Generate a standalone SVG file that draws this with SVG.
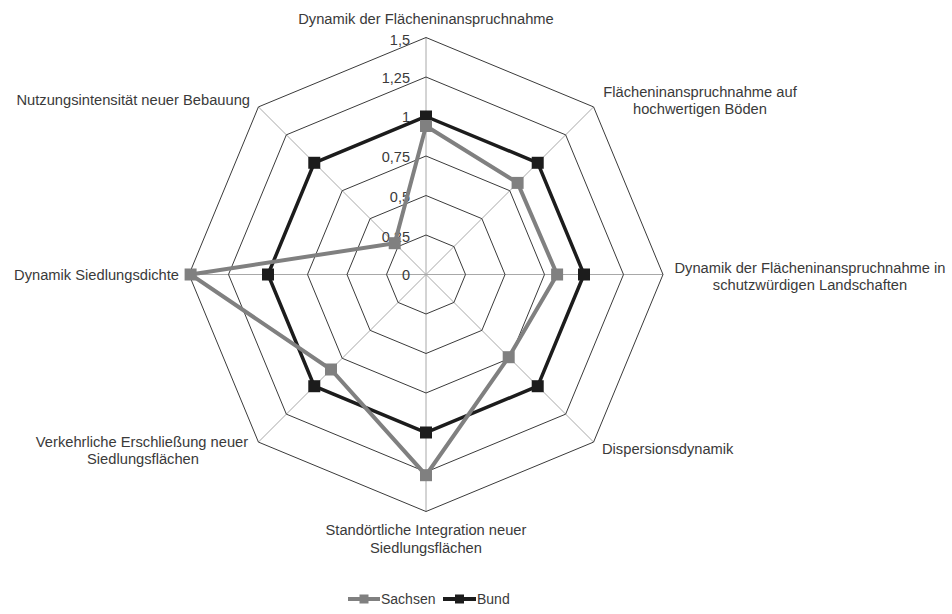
<svg xmlns="http://www.w3.org/2000/svg" width="952" height="614" viewBox="0 0 952 614">
<style>
.grid{fill:none;stroke:#3a3a3a;stroke-width:1}
.spoke{stroke:#a8a8a8;stroke-width:1}
.lbl{font-family:"Liberation Sans",Arial,sans-serif;font-size:14.7px;fill:#3a3a3a}
.tick{font-family:"Liberation Sans",Arial,sans-serif;font-size:14.5px;fill:#3a3a3a;text-anchor:end}
.mid{text-anchor:middle}
.end{text-anchor:end}
.sachsen{fill:none;stroke:#808080;stroke-width:4;stroke-linejoin:miter}
.bund{fill:none;stroke:#1c1c1c;stroke-width:3.5;stroke-linejoin:miter}
.ms{fill:#808080}
.mb{fill:#1c1c1c}
</style>
<defs>
<rect id="sq" x="-6" y="-6" width="12" height="12"/>
<rect id="sqs" x="-4.5" y="-4.5" width="9" height="9"/>
</defs>
<rect width="952" height="614" fill="#ffffff"/>
<g id="grid" transform="translate(426,274.5)">
<g id="spokes">
<line class="spoke" x1="0" y1="0" x2="0" y2="-237"/>
<line class="spoke" x1="0" y1="0" x2="167.58" y2="-167.58"/>
<line class="spoke" x1="0" y1="0" x2="237" y2="0"/>
<line class="spoke" x1="0" y1="0" x2="167.58" y2="167.58"/>
<line class="spoke" x1="0" y1="0" x2="0" y2="237"/>
<line class="spoke" x1="0" y1="0" x2="-167.58" y2="167.58"/>
<line class="spoke" x1="0" y1="0" x2="-237" y2="0"/>
<line class="spoke" x1="0" y1="0" x2="-167.58" y2="-167.58"/>
</g>
<polygon class="grid" points="0,-39.5 27.93,-27.93 39.5,0 27.93,27.93 0,39.5 -27.93,27.93 -39.5,0 -27.93,-27.93"/>
<polygon class="grid" points="0,-79 55.86,-55.86 79,0 55.86,55.86 0,79 -55.86,55.86 -79,0 -55.86,-55.86"/>
<polygon class="grid" points="0,-118.5 83.79,-83.79 118.5,0 83.79,83.79 0,118.5 -83.79,83.79 -118.5,0 -83.79,-83.79"/>
<polygon class="grid" points="0,-158 111.72,-111.72 158,0 111.72,111.72 0,158 -111.72,111.72 -158,0 -111.72,-111.72"/>
<polygon class="grid" points="0,-197.5 139.65,-139.65 197.5,0 139.65,139.65 0,197.5 -139.65,139.65 -197.5,0 -139.65,-139.65"/>
<polygon class="grid" points="0,-237 167.58,-167.58 237,0 167.58,167.58 0,237 -167.58,167.58 -237,0 -167.58,-167.58"/>
</g>
<g id="ticks">
<text class="tick" x="410" y="45">1,5</text>
<text class="tick" x="410" y="83">1,25</text>
<text class="tick" x="410" y="122">1</text>
<text class="tick" x="410" y="162">0,75</text>
<text class="tick" x="410" y="202">0,5</text>
<text class="tick" x="410" y="242">0,25</text>
<text class="tick" x="410" y="280">0</text>
</g>
<g id="connectors" transform="translate(426,274.5)">
<polygon id="series-bund" class="bund" points="0,-158 111.72,-111.72 158,0 111.72,111.72 0,158 -111.72,111.72 -158,0 -111.72,-111.72"/>
<polygon id="series-sachsen" class="sachsen" points="0,-148.5 91.6,-91.6 131.1,0 82.7,82.7 0,200.7 -95,95 -235.4,0 -31.3,-31.3"/>
</g>
<g id="markers-bund" class="mb" transform="translate(426,274.5)">
<use href="#sq" x="0" y="-158"/>
<use href="#sq" x="111.72" y="-111.72"/>
<use href="#sq" x="158" y="0"/>
<use href="#sq" x="111.72" y="111.72"/>
<use href="#sq" x="0" y="158"/>
<use href="#sq" x="-111.72" y="111.72"/>
<use href="#sq" x="-158" y="0"/>
<use href="#sq" x="-111.72" y="-111.72"/>
</g>
<g id="markers-sachsen" class="ms" transform="translate(426,274.5)">
<use href="#sq" x="0" y="-148.5"/>
<use href="#sq" x="91.6" y="-91.6"/>
<use href="#sq" x="131.1" y="0"/>
<use href="#sq" x="82.7" y="82.7"/>
<use href="#sq" x="0" y="200.7"/>
<use href="#sq" x="-95" y="95"/>
<use href="#sq" x="-235.4" y="0"/>
<use href="#sq" x="-31.3" y="-31.3"/>
</g>
<g id="axis-labels">
<g id="label-n"><text class="lbl mid" x="426" y="24">Dynamik der Flächeninanspruchnahme</text></g>
<g id="label-ne"><text class="lbl mid" x="700" y="97">Flächeninanspruchnahme auf</text><text class="lbl mid" x="700" y="114">hochwertigen Böden</text></g>
<g id="label-e"><text class="lbl mid" x="810" y="273">Dynamik der Flächeninanspruchnahme in</text><text class="lbl mid" x="810" y="290">schutzwürdigen Landschaften</text></g>
<g id="label-se"><text class="lbl" x="602" y="454">Dispersionsdynamik</text></g>
<g id="label-s"><text class="lbl mid" x="426" y="535">Standörtliche Integration neuer</text><text class="lbl mid" x="426" y="553">Siedlungsflächen</text></g>
<g id="label-sw"><text class="lbl mid" x="142" y="447">Verkehrliche Erschließung neuer</text><text class="lbl mid" x="143" y="464">Siedlungsflächen</text></g>
<g id="label-w"><text class="lbl end" x="179" y="280">Dynamik Siedlungsdichte</text></g>
<g id="label-nw"><text class="lbl end" x="250" y="105">Nutzungsintensität neuer Bebauung</text></g>
</g>
<g id="legend">
<line x1="348" y1="599" x2="380" y2="599" stroke="#808080" stroke-width="4"/>
<use href="#sqs" x="364" y="599" fill="#808080"/>
<text class="lbl" style="font-size:14px" x="381" y="604">Sachsen</text>
<line x1="443" y1="599" x2="476" y2="599" stroke="#1c1c1c" stroke-width="4"/>
<use href="#sqs" x="459.5" y="599" fill="#1c1c1c"/>
<text class="lbl" style="font-size:14px" x="477" y="604">Bund</text>
</g>
</svg>
